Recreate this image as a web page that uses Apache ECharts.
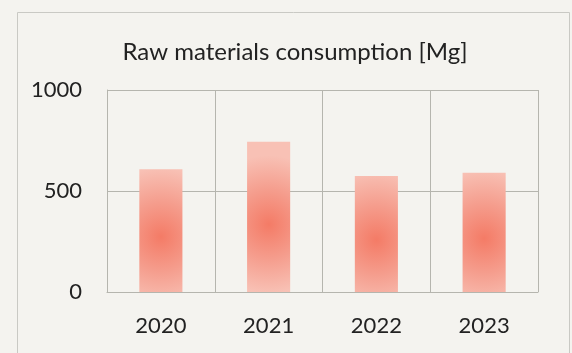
<!DOCTYPE html>
<html>
<head>
<meta charset="utf-8">
<script src="https://cdn.jsdelivr.net/npm/echarts@6/dist/echarts.min.js"></script>
<style>
html,body{margin:0;padding:0;background:#f4f3ef;}
#c{width:572px;height:353px;}
</style>
</head>
<body>
<div id="c"></div>
<script>
const titleText = 'Raw materials consumption [Mg]';
const categories = ['2020', '2021', '2022', '2023'];
const consumption = [608, 744, 574, 590];
const yTicks = { min: 0, max: 1000, interval: 500 };

const chart = echarts.init(document.getElementById('c'), null, { renderer: 'canvas' });
const font = 'Lato, "Noto Sans", sans-serif';
chart.setOption({
  backgroundColor: '#f4f3ef',
  animation: false,
  title: {
    text: titleText,
    left: 290, top: 35, textAlign: 'center',
    textStyle: { fontFamily: font, fontSize: 24, fontWeight: 'normal', color: '#222' }
  },
  graphic: [{
    type: 'rect', left: 15, top: 10, silent: true,
    shape: { width: 552, height: 360 },
    style: { fill: 'none', stroke: '#c9c9c4', lineWidth: 1 }
  }],
  grid: { left: 107, right: 34, top: 90, bottom: 61 },
  xAxis: {
    type: 'category', data: categories, boundaryGap: true,
    axisLine: { show: true, lineStyle: { color: '#b5b5ae' } },
    axisTick: { show: false },
    splitLine: { show: true, lineStyle: { color: '#b5b5ae', width: 1 } },
    axisLabel: { fontFamily: font, fontSize: 22, color: '#222', margin: 23 }
  },
  yAxis: {
    type: 'value', min: yTicks.min, max: yTicks.max, interval: yTicks.interval,
    axisLine: { show: true, lineStyle: { color: '#b5b5ae' } },
    axisTick: { show: false },
    splitLine: { show: true, lineStyle: { color: '#b5b5ae', width: 1 } },
    axisLabel: { fontFamily: font, fontSize: 22, color: '#222', margin: 25, formatter: v => String(v) }
  },
  series: [{
    type: 'bar', data: consumption, barWidth: '40%',
    itemStyle: {
      color: {
        type: 'radial', x: 0.5, y: 0.55, r: 1.6,
        colorStops: [
          { offset: 0, color: '#f47b66' },
          { offset: 0.5, color: '#f59d8d' },
          { offset: 1, color: '#f8c1b5' }
        ]
      }
    }
  }]
});
</script>
</body>
</html>
